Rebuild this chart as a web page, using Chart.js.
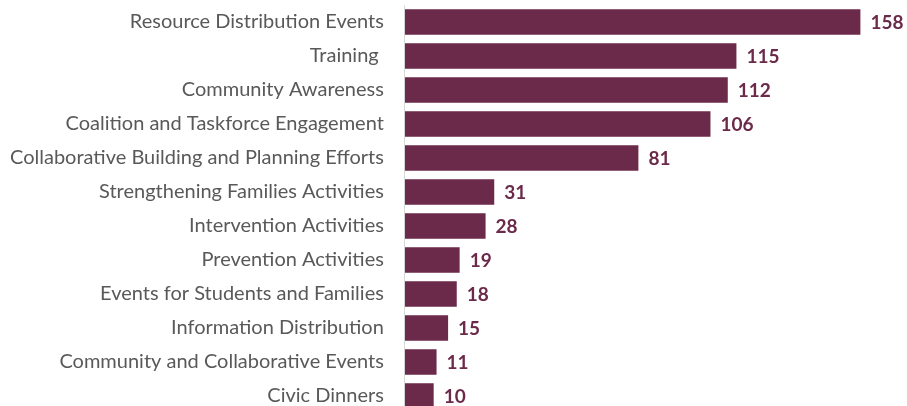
<!DOCTYPE html>
<html>
<head>
<meta charset="utf-8">
<script src="https://cdn.jsdelivr.net/npm/chart.js@4.4.1/dist/chart.umd.min.js"></script>
<style>
  html, body { margin: 0; padding: 0; background: #fff; overflow: hidden; }
  canvas { display: block; margin-top: -7px; }
</style>
</head>
<body>
<canvas id="activityChart" width="907" height="432"></canvas>
<script>
var categories = [
  'Resource Distribution Events',
  'Training ',
  'Community Awareness',
  'Coalition and Taskforce Engagement',
  'Collaborative Building and Planning Efforts',
  'Strengthening Families Activities',
  'Intervention Activities',
  'Prevention Activities',
  'Events for Students and Families',
  'Information Distribution',
  'Community and Collaborative Events',
  'Civic Dinners'
];
var eventCounts = [158, 115, 112, 106, 81, 31, 28, 19, 18, 15, 11, 10];

var barColor = '#6b2a4a';

// draws the number just past the end of each bar
var valueLabels = {
  id: 'valueLabels',
  afterDatasetsDraw: function(chart) {
    var ctx = chart.ctx;
    var meta = chart.getDatasetMeta(0);
    ctx.save();
    ctx.font = 'bold 19px Lato';
    ctx.fillStyle = barColor;
    ctx.textAlign = 'left';
    ctx.textBaseline = 'middle';
    meta.data.forEach(function(bar, i) {
      ctx.fillText(eventCounts[i], bar.x + 10, bar.y + 1);
    });
    ctx.restore();
  }
};

function init() {
  var ctx = document.getElementById('activityChart');
  new Chart(ctx, {
    type: 'bar',
    data: {
      labels: categories,
      datasets: [{
        data: eventCounts,
        backgroundColor: barColor,
        borderWidth: 0,
        categoryPercentage: 1,
        barPercentage: 0.75
      }]
    },
    options: {
      indexAxis: 'y',
      responsive: false,
      animation: false,
      layout: { padding: { top: 0, right: 12, bottom: 0, left: 10 } },
      plugins: {
        legend: { display: false },
        tooltip: { enabled: false }
      },
      scales: {
        x: {
          display: false,
          min: 0,
          max: 170
        },
        y: {
          grid: {
            display: true,
            drawOnChartArea: false,
            drawTicks: true,
            tickLength: 21,
            tickColor: 'rgba(0,0,0,0)'
          },
          border: { display: true, color: '#d9d9d9', width: 1 },
          ticks: {
            color: '#595959',
            padding: 0,
            font: { family: 'Lato', size: 20 }
          }
        }
      }
    },
    plugins: [valueLabels]
  });
}

document.addEventListener('DOMContentLoaded', init);
</script>
</body>
</html>
